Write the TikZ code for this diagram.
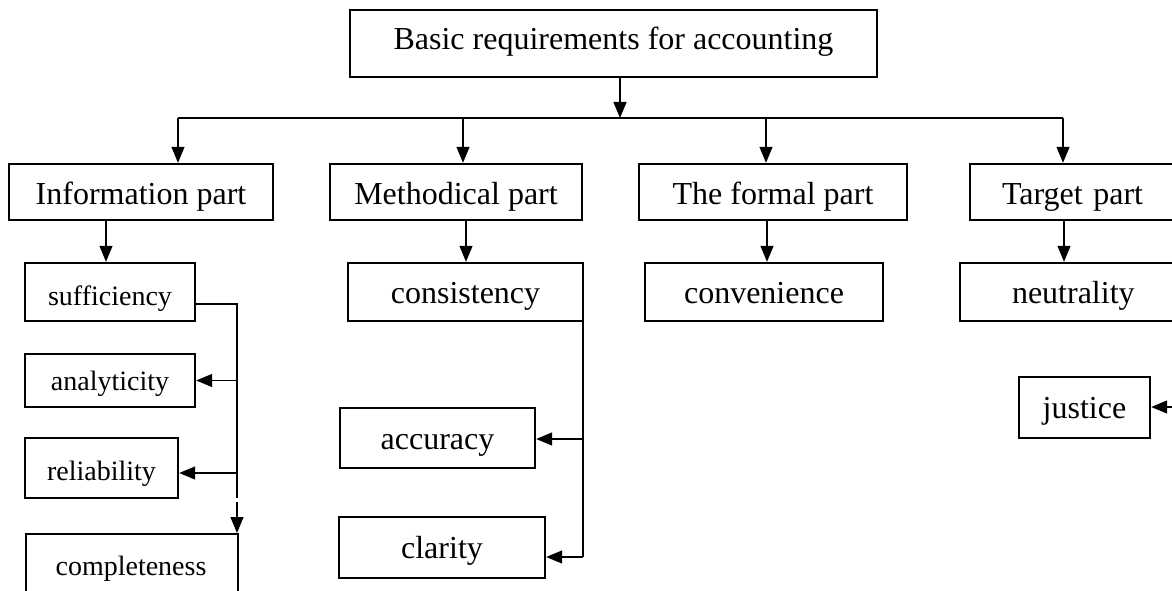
\documentclass[tikz,border=0pt]{standalone}
\usepackage{fontspec}
\setmainfont{Liberation Serif}
\usetikzlibrary{arrows.meta}
\begin{document}
\begin{tikzpicture}[x=1pt,y=-1pt,
  box/.style={draw,line width=2.4pt,rectangle,inner sep=0pt,align=center,font=\fontsize{32}{36}\selectfont,text height=26pt,text depth=4pt},
  sbox/.style={box,font=\fontsize{28}{32}\selectfont},
  lvl/.style={text height=28pt,text depth=4pt},
  con/.style={line width=1.2pt},
  arr/.style={con,-{Triangle[length=16pt,width=13pt]}}]
\useasboundingbox (0,0) rectangle (1172,591);
\clip (0,0) rectangle (1172,591);
% boxes
\node[box,minimum width=527pt,minimum height=67pt,text height=20pt,text depth=7pt] (top) at (613.5,43.5) {Basic requirements for accounting};
\node[box,lvl,minimum width=264pt,minimum height=56pt] (info) at (141,192) {Information part};
\node[box,lvl,minimum width=252pt,minimum height=56pt] (meth) at (456,192) {Methodical part};
\node[box,lvl,minimum width=268pt,minimum height=56pt] (form) at (773,192) {The formal part};
\node[box,lvl,minimum width=210pt,minimum height=56pt,text width=200pt,align=left] (targ) at (1075,192) {\hspace*{27pt}Target part};
\node[sbox,minimum width=170pt,minimum height=58pt,text height=30pt] (suff) at (110,292) {sufficiency};
\node[sbox,minimum width=170pt,minimum height=53pt,text height=23pt] (anal) at (110,380.5) {analyticity};
\node[sbox,minimum width=153pt,minimum height=60pt,text height=28pt] (rel) at (101.5,468) {reliability};
\node[sbox,minimum width=212pt,minimum height=87pt,anchor=north] (comp) at (132,533) {};
\node[font=\fontsize{28}{32}\selectfont,inner sep=0pt,anchor=base] (compt) at (131,575) {completeness};
\node[box,minimum width=235pt,minimum height=58pt] (cons) at (465.5,292) {consistency};
\node[box,minimum width=195pt,minimum height=60pt] (acc) at (437.5,438) {accuracy};
\node[box,minimum width=206pt,minimum height=61pt] (clar) at (442,547.5) {clarity};
\node[box,minimum width=238pt,minimum height=58pt] (conv) at (764,292) {convenience};
\node[box,minimum width=220pt,minimum height=58pt,text width=210pt,align=left] (neut) at (1070,292) {\hspace*{47pt}neutrality};
\node[box,minimum width=131pt,minimum height=61pt] (just) at (1084.5,407.5) {justice};
% top level connectors
\coordinate (hub) at (620,118);
\coordinate (b1) at (178,118);
\coordinate (b2) at (463,118);
\coordinate (b3) at (766,118);
\coordinate (b4) at (1063,118);
\draw[arr] (top.south -| hub) -- (hub);
\draw[con] (b1) -- (b4);
\draw[arr] (b1) -- (b1 |- info.north);
\draw[arr] (b2) -- (b2 |- meth.north);
\draw[arr] (b3) -- (b3 |- form.north);
\draw[arr] (b4) -- (b4 |- targ.north);
% second level connectors
\coordinate (c1) at (106,0);
\coordinate (c2) at (466,0);
\coordinate (c3) at (767,0);
\coordinate (c4) at (1064,0);
\draw[arr] (info.south -| c1) -- (c1 |- suff.north);
\draw[arr] (meth.south -| c2) -- (c2 |- cons.north);
\draw[arr] (form.south -| c3) -- (c3 |- conv.north);
\draw[arr] (targ.south -| c4) -- (c4 |- neut.north);
% information bracket
\coordinate (v1) at (237,304);
\coordinate (g1) at (237,498);
\coordinate (g2) at (237,502);
\coordinate (ra) at (0,473);
\draw[con] (suff.east |- v1) -- (v1) -- (g1);
\draw[arr] (g2) -- (g2 |- comp.north);
\draw[arr] (v1 |- anal.east) -- (anal.east);
\draw[arr] (v1 |- ra) -- (rel.east |- ra);
% methodical bracket
\coordinate (m0) at (583,321);
\coordinate (m1) at (583,439);
\coordinate (m2) at (583,557);
\draw[con] (m0) -- (m2);
\draw[arr] (m1) -- (acc.east |- m1);
\draw[arr] (m2) -- (clar.east |- m2);
% justice
\coordinate (jr) at (1180,407);
\draw[arr] (jr) -- (just.east |- jr);
\end{tikzpicture}
\end{document}
